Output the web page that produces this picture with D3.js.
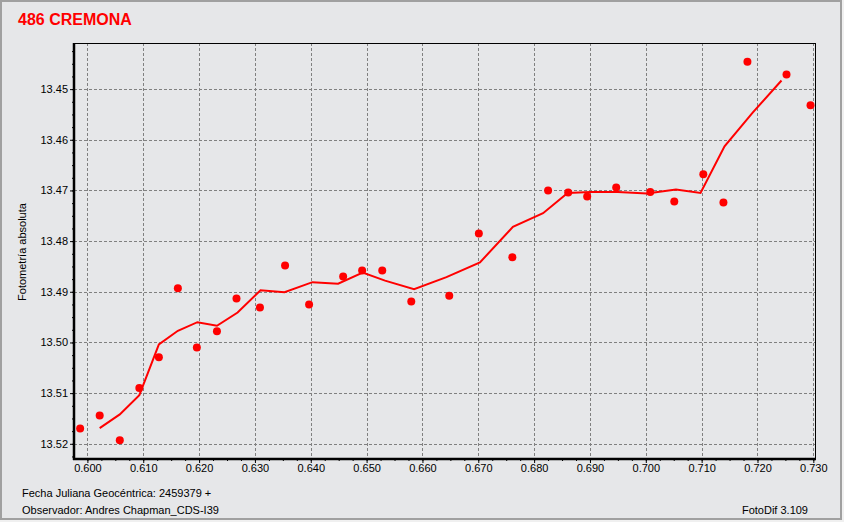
<!DOCTYPE html>
<html>
<head>
<meta charset="utf-8">
<script src="https://cdn.jsdelivr.net/npm/d3@7"></script>
<style>
  html, body { margin: 0; padding: 0; background: #f0f0f0; }
  svg { display: block; }
  text { font-family: "Liberation Sans", Arial, sans-serif; }
</style>
</head>
<body>
<svg id="chart" width="844" height="522"></svg>
<script>
// ---- data ----
const title = "486 CREMONA";
const yLabel = "Fotometría absoluta";
const footer1 = "Fecha Juliana Geocéntrica: 2459379 +";
const footer2 = "Observador: Andres Chapman_CDS-I39";
const footer3 = "FotoDif 3.109";

const obsJD = [0.5987, 0.6022, 0.6058, 0.6093, 0.6128, 0.6162, 0.6196, 0.6232, 0.6267, 0.6309,
               0.6354, 0.6397, 0.6458, 0.6492, 0.6528, 0.6580, 0.6648, 0.6701, 0.6761, 0.6825,
               0.6861, 0.6895, 0.6947, 0.7008, 0.7051, 0.7103, 0.7139, 0.7182, 0.7252, 0.7295];
const obsMag = [13.5170, 13.5144, 13.5193, 13.5090, 13.5029, 13.4893, 13.5010, 13.4978, 13.4913, 13.4931,
                13.4848, 13.4925, 13.4870, 13.4858, 13.4858, 13.4919, 13.4908, 13.4785, 13.4832, 13.4700,
                13.4704, 13.4712, 13.4694, 13.4703, 13.4722, 13.4668, 13.4724, 13.4446, 13.4471, 13.4532];

const trendJD = [0.6022, 0.6058, 0.6093, 0.6128, 0.6162, 0.6197, 0.6232, 0.6269, 0.6310, 0.6353,
                 0.6403, 0.6449, 0.6493, 0.6533, 0.6585, 0.6643, 0.6703, 0.6762, 0.6816, 0.6860,
                 0.6901, 0.6950, 0.7002, 0.7054, 0.7098, 0.7141, 0.7191, 0.7243];
const trendMag = [13.5169, 13.5142, 13.5104, 13.5004, 13.4977, 13.4960, 13.4967, 13.4941, 13.4897, 13.4901,
                  13.4881, 13.4884, 13.4862, 13.4878, 13.4895, 13.4871, 13.4842, 13.4772, 13.4745, 13.4705,
                  13.4703, 13.4703, 13.4706, 13.4698, 13.4705, 13.4613, 13.4547, 13.4483];

const xTicks = [0.600, 0.610, 0.620, 0.630, 0.640, 0.650, 0.660, 0.670, 0.680, 0.690, 0.700, 0.710, 0.720, 0.730];
const yTicks = [13.45, 13.46, 13.47, 13.48, 13.49, 13.50, 13.51, 13.52];
const xDomain = [0.5976, 0.7303];
const yDomain = [13.4409, 13.5230];

// ---- layout ----
const svg = d3.select("#chart");
const L = 74, T = 43, R = 815, B = 459;
const bg = "#e6e7e9";

// frame
svg.append("rect").attr("x", 0).attr("y", 0).attr("width", 844).attr("height", 522).attr("fill", "#f0f0f0");
svg.append("rect").attr("x", 1).attr("y", 1).attr("width", 840).attr("height", 518)
  .attr("fill", bg).attr("stroke", "#a0a0a0").attr("stroke-width", 2);

const x = d3.scaleLinear().domain(xDomain).range([L, R]);
const y = d3.scaleLinear().domain(yDomain).range([T, B]);

// grid
const grid = svg.append("g").attr("stroke", "#808080").attr("stroke-width", 1).attr("stroke-dasharray", "3,2");
grid.selectAll(".gx").data(xTicks).join("line")
  .attr("x1", d => Math.round(x(d)) + 0.5).attr("x2", d => Math.round(x(d)) + 0.5)
  .attr("y1", T).attr("y2", B);
grid.selectAll(".gy").data(yTicks).join("line")
  .attr("y1", d => Math.round(y(d)) + 0.5).attr("y2", d => Math.round(y(d)) + 0.5)
  .attr("x1", L).attr("x2", R);

// minor ticks
const xMinor = d3.range(Math.ceil(xDomain[0] / 0.0025), Math.floor(xDomain[1] / 0.0025) + 1).map(i => i * 0.0025);
const yMinor = d3.range(Math.ceil(yDomain[0] / 0.0025), Math.floor(yDomain[1] / 0.0025) + 1).map(i => i * 0.0025);

// axes
const xAxis = d3.axisBottom(x).tickValues(xTicks).tickFormat(d3.format(".3f")).tickSize(4).tickSizeOuter(0);
const yAxis = d3.axisLeft(y).tickValues(yTicks).tickFormat(d3.format(".2f")).tickSize(4).tickSizeOuter(0);

const gx = svg.append("g").attr("transform", `translate(0,${B})`);
gx.call(d3.axisBottom(x).tickValues(xMinor).tickFormat("").tickSize(2).tickSizeOuter(0));
gx.call(g => g.select(".domain").remove());
const gx2 = svg.append("g").attr("transform", `translate(0,${B})`).call(xAxis);
gx2.select(".domain").remove();
gx2.selectAll("text").attr("font-size", 11).attr("fill", "#000").attr("dy", "0.71em").attr("y", 5)
  .style("font-family", "'Liberation Sans', Arial, sans-serif");

const gy = svg.append("g").attr("transform", `translate(${L},0)`);
gy.call(d3.axisLeft(y).tickValues(yMinor).tickFormat("").tickSize(2).tickSizeOuter(0));
gy.call(g => g.select(".domain").remove());
const gy2 = svg.append("g").attr("transform", `translate(${L},0)`).call(yAxis);
gy2.select(".domain").remove();
gy2.selectAll("text").attr("font-size", 11).attr("fill", "#000").attr("x", -6)
  .style("font-family", "'Liberation Sans', Arial, sans-serif");

// plot border
svg.append("rect").attr("x", L + 0.5).attr("y", T + 0.5).attr("width", R - L).attr("height", B - T)
  .attr("fill", "none").attr("stroke", "#000").attr("stroke-width", 1);
svg.append("line").attr("x1", L).attr("x2", L).attr("y1", T).attr("y2", B + 1)
  .attr("stroke", "#000").attr("stroke-width", 2.5);
svg.append("line").attr("x1", L - 1).attr("x2", R + 1).attr("y1", B).attr("y2", B)
  .attr("stroke", "#000").attr("stroke-width", 2.5);

// trend line
const trend = trendJD.map((d, i) => [d, trendMag[i]]);
svg.append("path").datum(trend)
  .attr("fill", "none").attr("stroke", "#ff0000").attr("stroke-width", 2)
  .attr("d", d3.line().x(d => x(d[0])).y(d => y(d[1])));

// points
const pts = obsJD.map((d, i) => [d, obsMag[i]]);
svg.append("g").selectAll("circle").data(pts).join("circle")
  .attr("cx", d => x(d[0])).attr("cy", d => y(d[1])).attr("r", 4).attr("fill", "#ff0000");

// texts
svg.append("text").attr("x", 18).attr("y", 25).text(title)
  .attr("font-size", 16).attr("font-weight", "bold").attr("fill", "#ff0000");
svg.append("text").attr("transform", "translate(26,252) rotate(-90)").attr("text-anchor", "middle")
  .attr("font-size", 11).attr("fill", "#000").text(yLabel);
svg.append("text").attr("x", 22).attr("y", 497).attr("font-size", 11).attr("fill", "#000").text(footer1);
svg.append("text").attr("x", 22).attr("y", 514).attr("font-size", 11).attr("fill", "#000").text(footer2);
svg.append("text").attr("x", 808).attr("y", 514).attr("text-anchor", "end").attr("font-size", 11).attr("fill", "#000").text(footer3);
</script>
</body>
</html>
